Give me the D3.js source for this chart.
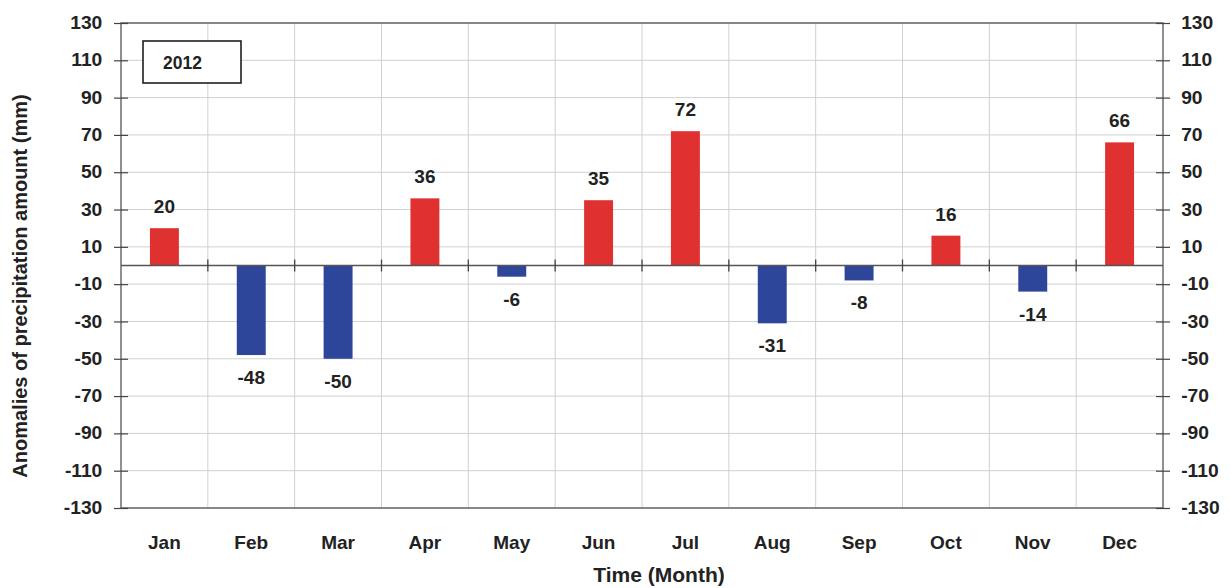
<!DOCTYPE html>
<html><head><meta charset="utf-8">
<script src="https://cdn.jsdelivr.net/npm/d3@7"></script>
<style>
html,body{margin:0;padding:0;background:#fff;}
text{font-family:"Liberation Sans",Arial,sans-serif;font-weight:bold;fill:#222;}
</style></head>
<body>
<svg id="chart" width="1231" height="588"></svg>
<script>
const months = ["Jan","Feb","Mar","Apr","May","Jun","Jul","Aug","Sep","Oct","Nov","Dec"];
const anomalies = [20,-48,-50,36,-6,35,72,-31,-8,16,-14,66];
const yTicks = [130,110,90,70,50,30,10,-10,-30,-50,-70,-90,-110,-130];
const yearLabel = "2012";

const svg = d3.select("#chart");
const L = 121, R = 1163, T = 23, B = 508;
const x = d3.scaleBand().domain(months).range([L, R]).paddingInner(0).paddingOuter(0);
const y = d3.scaleLinear().domain([-130, 130]).range([B, T]);

// horizontal grid
svg.append("g").selectAll("line").data(yTicks).join("line")
  .attr("x1", L).attr("x2", R).attr("y1", d => y(d)).attr("y2", d => y(d))
  .attr("stroke", "#d0d0d0").attr("stroke-width", 1);
// vertical grid at category boundaries
svg.append("g").selectAll("line").data(months.slice(1)).join("line")
  .attr("x1", d => x(d)).attr("x2", d => x(d)).attr("y1", T).attr("y2", B)
  .attr("stroke", "#d0d0d0").attr("stroke-width", 1);

// bars
svg.append("g").selectAll("rect").data(anomalies).join("rect")
  .attr("x", (d, i) => x(months[i]) + x.bandwidth() / 3)
  .attr("width", x.bandwidth() / 3)
  .attr("y", d => y(Math.max(0, d)))
  .attr("height", d => Math.abs(y(d) - y(0)))
  .attr("fill", d => d >= 0 ? "#e03131" : "#2e4699");

// zero line with crossing ticks
svg.append("line").attr("x1", L).attr("x2", R).attr("y1", y(0)).attr("y2", y(0))
  .attr("stroke", "#555").attr("stroke-width", 1.3);
svg.append("g").selectAll("line").data(months.slice(1)).join("line")
  .attr("x1", d => x(d)).attr("x2", d => x(d)).attr("y1", y(0) - 6).attr("y2", y(0) + 6)
  .attr("stroke", "#444").attr("stroke-width", 1.3);

// frame
svg.append("rect").attr("x", L).attr("y", T).attr("width", R - L).attr("height", B - T)
  .attr("fill", "none").attr("stroke", "#555").attr("stroke-width", 1.3);

// y axes (left and right)
const fmt = d => String(d);
const gl = svg.append("g").attr("transform", `translate(${L},0)`)
  .call(d3.axisLeft(y).tickValues(yTicks).tickFormat(fmt).tickSize(7).tickPadding(10));
const gr = svg.append("g").attr("transform", `translate(${R},0)`)
  .call(d3.axisRight(y).tickValues(yTicks).tickFormat(fmt).tickSize(7).tickPadding(9.5));
[gl, gr].forEach(g => {
  g.select(".domain").remove();
  g.selectAll(".tick line").attr("stroke", "#444").attr("stroke-width", 1.2);
  g.selectAll("text").style("font-size", "17.5px").style("font-family", '"Liberation Sans",Arial,sans-serif')
    .style("font-weight", "bold").attr("fill", "#222").attr("transform", "scale(1.1,1)");
});
gl.selectAll(".tick").append("line").attr("x1", 0).attr("x2", 7).attr("stroke", "#444").attr("stroke-width", 1.2);
gr.selectAll(".tick").append("line").attr("x1", 0).attr("x2", -7).attr("stroke", "#444").attr("stroke-width", 1.2);

// month labels
svg.append("g").selectAll("text").data(months).join("text")
  .attr("x", d => x(d) + x.bandwidth() / 2).attr("y", 549)
  .attr("text-anchor", "middle").style("font-size", "19px").text(d => d);

// value labels
svg.append("g").selectAll("text").data(anomalies).join("text")
  .attr("x", (d, i) => x(months[i]) + x.bandwidth() / 2)
  .attr("y", d => d >= 0 ? y(d) - 15 : y(d) + 29)
  .attr("text-anchor", "middle").style("font-size", "19px").text(d => d);

// year box
svg.append("rect").attr("x", 143).attr("y", 41).attr("width", 98).attr("height", 42)
  .attr("fill", "#fff").attr("stroke", "#111").attr("stroke-width", 1.5);
svg.append("text").attr("x", 163).attr("y", 69).style("font-size", "17.5px").text(yearLabel);

// axis titles
svg.append("text").attr("x", 659).attr("y", 582).attr("text-anchor", "middle")
  .style("font-size", "21px").text("Time (Month)");
svg.append("text").attr("transform", "translate(27,286) rotate(-90)").attr("text-anchor", "middle")
  .style("font-size", "20px").text("Anomalies of precipitation amount (mm)");
</script>
</body></html>
